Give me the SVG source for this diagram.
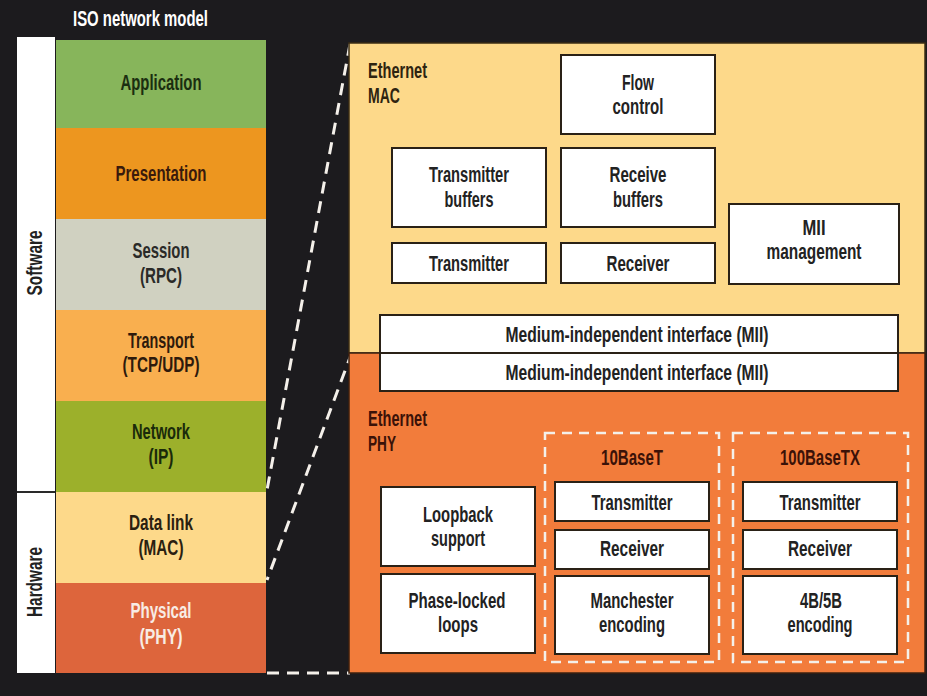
<svg xmlns="http://www.w3.org/2000/svg" width="927" height="696" viewBox="0 0 927 696">
<style>
text{font-family:"Liberation Sans",Arial,sans-serif;font-weight:bold;font-size:22px;text-anchor:middle}
.box{fill:#ffffff;stroke:#2a2116;stroke-width:2}
.bt{fill:#222222}
.dash{fill:none;stroke:#f4f0ea;stroke-width:2.5;stroke-dasharray:10 7}
.conn{fill:none;stroke:#f4f0ea;stroke-width:3;stroke-dasharray:12 8}
.st{text-anchor:start}
</style>
<rect x="0" y="0" width="927" height="696" fill="#1c1b1e"/>
<text x="73" y="26" class="st" fill="#ffffff" font-size="21" textLength="135" lengthAdjust="spacingAndGlyphs">ISO network model</text>

<g id="side-labels">
<rect x="17" y="37" width="38" height="636" fill="#ffffff"/>
<line x1="17" y1="492" x2="55" y2="492" stroke="#2a2a2a" stroke-width="2"/>
<text transform="translate(42,263) rotate(-90)" fill="#222222" textLength="65" lengthAdjust="spacingAndGlyphs">Software</text>
<text transform="translate(42,582) rotate(-90)" fill="#222222" textLength="70" lengthAdjust="spacingAndGlyphs">Hardware</text>
</g>

<g id="layer-application">
<rect x="56" y="40" width="210" height="88" fill="#87b55b"/>
<text x="161" y="90" fill="#1b2e10" textLength="81" lengthAdjust="spacingAndGlyphs">Application</text>
</g>
<g id="layer-presentation">
<rect x="56" y="128" width="210" height="91" fill="#ed961f"/>
<text x="161" y="181" fill="#3a1a0c" textLength="91" lengthAdjust="spacingAndGlyphs">Presentation</text>
</g>
<g id="layer-session">
<rect x="56" y="219" width="210" height="91" fill="#d0d1c1"/>
<text x="161" y="258" fill="#2a2a28" textLength="57" lengthAdjust="spacingAndGlyphs">Session</text>
<text x="161" y="283" fill="#2a2a28" textLength="42" lengthAdjust="spacingAndGlyphs">(RPC)</text>
</g>
<g id="layer-transport">
<rect x="56" y="310" width="210" height="91" fill="#f9af4f"/>
<text x="161" y="348" fill="#2e1a0c" textLength="66" lengthAdjust="spacingAndGlyphs">Transport</text>
<text x="161" y="372" fill="#2e1a0c" textLength="77" lengthAdjust="spacingAndGlyphs">(TCP/UDP)</text>
</g>
<g id="layer-network">
<rect x="56" y="401" width="210" height="91" fill="#9cb02b"/>
<text x="161" y="439" fill="#1a2a0a" textLength="58" lengthAdjust="spacingAndGlyphs">Network</text>
<text x="161" y="464" fill="#1a2a0a" textLength="25" lengthAdjust="spacingAndGlyphs">(IP)</text>
</g>
<g id="layer-datalink">
<rect x="56" y="492" width="210" height="91" fill="#fdd98a"/>
<text x="161" y="530" fill="#2a2010" textLength="64" lengthAdjust="spacingAndGlyphs">Data link</text>
<text x="161" y="555" fill="#2a2010" textLength="45" lengthAdjust="spacingAndGlyphs">(MAC)</text>
</g>
<g id="layer-physical">
<rect x="56" y="583" width="210" height="90" fill="#dd653c"/>
<text x="161" y="618" fill="#f8ece4" textLength="61" lengthAdjust="spacingAndGlyphs">Physical</text>
<text x="161" y="644" fill="#f8ece4" textLength="43" lengthAdjust="spacingAndGlyphs">(PHY)</text>
</g>

<g id="connectors">
<line class="conn" x1="350" y1="44" x2="267" y2="490"/>
<line class="conn" x1="352" y1="352" x2="267" y2="580"/>
<line class="conn" x1="267" y1="673" x2="350" y2="673"/>
</g>

<g id="ethernet-mac">
<rect x="349" y="43" width="576" height="310" fill="#fdd98a" stroke="#3a2c14" stroke-width="1.5"/>
<text x="368" y="78" class="st" fill="#2e2410" textLength="59" lengthAdjust="spacingAndGlyphs">Ethernet</text>
<text x="368" y="103" class="st" fill="#2e2410" textLength="32" lengthAdjust="spacingAndGlyphs">MAC</text>
</g>
<g id="ethernet-phy">
<rect x="349" y="353" width="576" height="320" fill="#f27c3b" stroke="#3a2010" stroke-width="1.5"/>
<text x="368" y="426" class="st" fill="#3b1208" textLength="59" lengthAdjust="spacingAndGlyphs">Ethernet</text>
<text x="368" y="451" class="st" fill="#3b1208" textLength="28" lengthAdjust="spacingAndGlyphs">PHY</text>
</g>

<g id="flow-control">
<rect class="box" x="561" y="55" width="154" height="79"/>
<text class="bt" x="638" y="90" textLength="32" lengthAdjust="spacingAndGlyphs">Flow</text>
<text class="bt" x="638" y="114" textLength="51" lengthAdjust="spacingAndGlyphs">control</text>
</g>
<g id="transmitter-buffers">
<rect class="box" x="392" y="148" width="154" height="79"/>
<text class="bt" x="469" y="182" textLength="80" lengthAdjust="spacingAndGlyphs">Transmitter</text>
<text class="bt" x="469" y="207" textLength="49" lengthAdjust="spacingAndGlyphs">buffers</text>
</g>
<g id="receive-buffers">
<rect class="box" x="561" y="148" width="154" height="79"/>
<text class="bt" x="638" y="182" textLength="57" lengthAdjust="spacingAndGlyphs">Receive</text>
<text class="bt" x="638" y="207" textLength="50" lengthAdjust="spacingAndGlyphs">buffers</text>
</g>
<g id="mac-transmitter">
<rect class="box" x="392" y="243" width="154" height="40"/>
<text class="bt" x="469" y="271" textLength="80" lengthAdjust="spacingAndGlyphs">Transmitter</text>
</g>
<g id="mac-receiver">
<rect class="box" x="561" y="243" width="154" height="40"/>
<text class="bt" x="638" y="271" textLength="63" lengthAdjust="spacingAndGlyphs">Receiver</text>
</g>
<g id="mii-management">
<rect class="box" x="729" y="204" width="170" height="80"/>
<text class="bt" x="814" y="235" font-size="21" textLength="23" lengthAdjust="spacingAndGlyphs">MII</text>
<text class="bt" x="814" y="259" font-size="21" textLength="95" lengthAdjust="spacingAndGlyphs">management</text>
</g>
<g id="mii-mac">
<rect class="box" x="380" y="315" width="518" height="38"/>
<text class="bt" x="637" y="342" textLength="263" lengthAdjust="spacingAndGlyphs">Medium-independent interface (MII)</text>
</g>
<g id="mii-phy">
<rect class="box" x="380" y="353" width="518" height="38"/>
<text class="bt" x="637" y="380" textLength="263" lengthAdjust="spacingAndGlyphs">Medium-independent interface (MII)</text>
</g>

<g id="loopback-support">
<rect class="box" x="381" y="487" width="154" height="79"/>
<text class="bt" x="458" y="522" textLength="70" lengthAdjust="spacingAndGlyphs">Loopback</text>
<text class="bt" x="458" y="546" textLength="54" lengthAdjust="spacingAndGlyphs">support</text>
</g>
<g id="phase-locked-loops">
<rect class="box" x="381" y="574" width="154" height="79"/>
<text class="bt" x="457" y="608" textLength="97" lengthAdjust="spacingAndGlyphs">Phase-locked</text>
<text class="bt" x="458" y="632" textLength="40" lengthAdjust="spacingAndGlyphs">loops</text>
</g>

<g id="group-10baset">
<rect class="dash" x="545" y="433" width="174" height="229"/>
<text x="632" y="465" fill="#3b1208" textLength="62" lengthAdjust="spacingAndGlyphs">10BaseT</text>
</g>
<g id="t10-transmitter">
<rect class="box" x="555" y="482" width="154" height="39"/>
<text class="bt" x="632" y="510" textLength="81" lengthAdjust="spacingAndGlyphs">Transmitter</text>
</g>
<g id="t10-receiver">
<rect class="box" x="555" y="530" width="154" height="39"/>
<text class="bt" x="632" y="556" textLength="64" lengthAdjust="spacingAndGlyphs">Receiver</text>
</g>
<g id="manchester-encoding">
<rect class="box" x="555" y="576" width="154" height="78"/>
<text class="bt" x="632" y="608" textLength="83" lengthAdjust="spacingAndGlyphs">Manchester</text>
<text class="bt" x="632" y="632" textLength="66" lengthAdjust="spacingAndGlyphs">encoding</text>
</g>

<g id="group-100basetx">
<rect class="dash" x="733" y="433" width="175" height="229"/>
<text x="820" y="465" fill="#3b1208" textLength="80" lengthAdjust="spacingAndGlyphs">100BaseTX</text>
</g>
<g id="tx100-transmitter">
<rect class="box" x="743" y="482" width="154" height="39"/>
<text class="bt" x="820" y="510" textLength="81" lengthAdjust="spacingAndGlyphs">Transmitter</text>
</g>
<g id="tx100-receiver">
<rect class="box" x="743" y="530" width="154" height="39"/>
<text class="bt" x="820" y="556" textLength="64" lengthAdjust="spacingAndGlyphs">Receiver</text>
</g>
<g id="encoding-4b5b">
<rect class="box" x="743" y="576" width="154" height="78"/>
<text class="bt" x="821" y="608" textLength="42" lengthAdjust="spacingAndGlyphs">4B/5B</text>
<text class="bt" x="820" y="632" textLength="65" lengthAdjust="spacingAndGlyphs">encoding</text>
</g>
</svg>
